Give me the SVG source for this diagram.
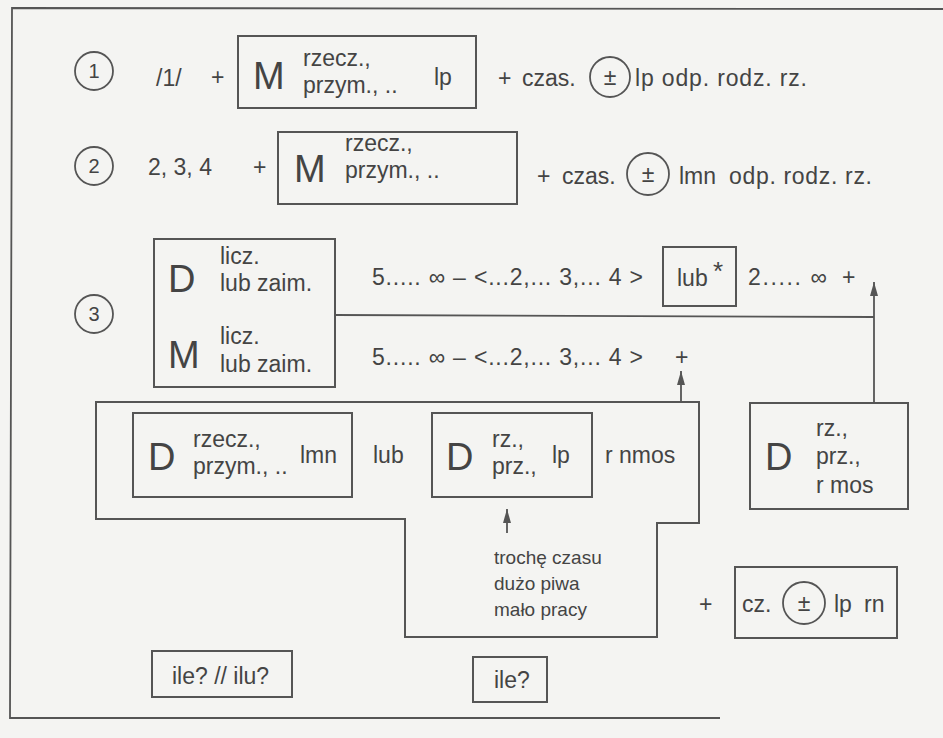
<svg xmlns="http://www.w3.org/2000/svg" width="943" height="738" viewBox="0 0 943 738">
<defs>
<style>
text{font-family:"Liberation Sans",Arial,sans-serif;fill:#444;font-size:23px}
.big{font-size:38px}
.sm{font-size:20px}
.ex{font-size:19px}
.box{fill:none;stroke:#555;stroke-width:2}
.ln{fill:none;stroke:#555;stroke-width:1.8}
.c{fill:none;stroke:#555;stroke-width:1.8}
.mid{text-anchor:middle}
</style>
<marker id="ah" viewBox="0 0 14 8" refX="14" refY="4" markerWidth="14" markerHeight="8" markerUnits="userSpaceOnUse" orient="auto">
<path d="M0 0 L14 4 L0 8 Z" fill="#555"/>
</marker>
</defs>
<rect width="943" height="738" fill="#f4f4f2"/>
<path class="ln" d="M943 9 L12 8 L10 718 L720 718"/>

<g id="row1">
<circle class="c" cx="94" cy="71" r="19"/><text class="mid sm" x="94" y="78">1</text>
<text x="156" y="86">/1/</text>
<text x="211" y="85">+</text>
</g>
<g id="box-m1">
<rect class="box" x="238" y="36" width="238" height="72"/>
<text class="big" x="253" y="89">M</text>
<text x="303" y="66">rzecz.,</text>
<text x="303" y="93">przym., ..</text>
<text x="434" y="85">lp</text>
</g>
<g id="row1-right">
<text x="498" y="86">+</text>
<text x="522" y="86">czas.</text>
<circle class="c" cx="610" cy="77" r="20"/><text class="mid" x="610" y="85">±</text>
<text x="635" y="86" textLength="172" lengthAdjust="spacing">lp odp. rodz. rz.</text>
</g>

<g id="row2">
<circle class="c" cx="94" cy="166" r="19"/><text class="mid sm" x="94" y="173">2</text>
<text x="148" y="175">2, 3, 4</text>
<text x="253" y="175">+</text>
</g>
<g id="box-m2">
<rect class="box" x="278" y="132" width="239" height="72"/>
<text class="big" x="294" y="182">M</text>
<text x="345" y="151">rzecz.,</text>
<text x="345" y="178">przym., ..</text>
</g>
<g id="row2-right">
<text x="537" y="184">+</text>
<text x="562" y="184">czas.</text>
<circle class="c" cx="648" cy="174" r="21"/><text class="mid" x="648" y="182">±</text>
<text x="679" y="184">lmn</text>
<text x="729" y="184" textLength="143" lengthAdjust="spacing">odp. rodz. rz.</text>
</g>

<g id="row3">
<circle class="c" cx="94" cy="314" r="19"/><text class="mid sm" x="94" y="321">3</text>
</g>
<g id="table">
<rect class="box" x="154" y="239" width="181" height="148"/>
<text class="big" x="168" y="292">D</text>
<text x="220" y="264">licz.</text>
<text x="220" y="291">lub zaim.</text>
<text class="big" x="168" y="368">M</text>
<text x="220" y="344">licz.</text>
<text x="220" y="372">lub zaim.</text>
</g>
<g id="row3-text">
<text x="372" y="285" textLength="271" lengthAdjust="spacing">5..... ∞ – &lt;...2,... 3,... 4 &gt;</text>
<text x="372" y="365" textLength="271" lengthAdjust="spacing">5..... ∞ – &lt;...2,... 3,... 4 &gt;</text>
<text x="675" y="365">+</text>
<text x="748" y="285" textLength="79" lengthAdjust="spacing">2..... ∞</text>
<text x="842" y="285">+</text>
</g>
<g id="lub-star">
<rect class="box" x="663" y="247" width="73" height="59"/>
<text x="677" y="286">lub</text>
<text x="713" y="280" style="font-size:26px">*</text>
</g>

<g id="outline">
<path class="box" d="M96 402 L699 402 L699 523 L657 523 L657 637 L405 637 L405 519 L96 519 Z"/>
</g>
<g id="box-d1">
<rect class="box" x="133" y="413" width="219" height="84"/>
<text class="big" x="148" y="470">D</text>
<text x="193" y="447">rzecz.,</text>
<text x="193" y="474">przym., ..</text>
<text x="300" y="463">lmn</text>
</g>
<text x="373" y="463">lub</text>
<g id="box-d2">
<rect class="box" x="432" y="413" width="160" height="84"/>
<text class="big" x="446" y="470">D</text>
<text x="492" y="447">rz.,</text>
<text x="492" y="474">prz.,</text>
<text x="552" y="463">lp</text>
</g>
<text x="605" y="463">r nmos</text>
<g id="examples">
<text class="ex" x="494" y="564">trochę czasu</text>
<text class="ex" x="494" y="590">dużo piwa</text>
<text class="ex" x="494" y="616">mało pracy</text>
</g>
<g id="box-d3">
<rect class="box" x="750" y="403" width="158" height="106"/>
<text class="big" x="765" y="470">D</text>
<text x="816" y="436">rz.,</text>
<text x="816" y="464">prz.,</text>
<text x="816" y="493">r mos</text>
</g>
<text x="699" y="612">+</text>
<g id="box-cz">
<rect class="box" x="735" y="567" width="162" height="71"/>
<text x="742" y="612">cz.</text>
<circle class="c" cx="804" cy="603" r="21"/><text class="mid" x="804" y="611">±</text>
<text x="834" y="612">lp</text>
<text x="864" y="612">rn</text>
</g>
<g id="box-ile1">
<rect class="box" x="152" y="651" width="140" height="46"/>
<text x="172" y="684">ile? // ilu?</text>
</g>
<g id="box-ile2">
<rect class="box" x="473" y="657" width="74" height="45"/>
<text x="494" y="688">ile?</text>
</g>

<g id="connectors">
<line class="ln" x1="335" y1="315" x2="874" y2="317"/>
<line class="ln" x1="874" y1="403" x2="874" y2="282" marker-end="url(#ah)"/>
<line class="ln" x1="681" y1="402" x2="681" y2="371" marker-end="url(#ah)"/>
<line class="ln" x1="507" y1="533" x2="507" y2="509" marker-end="url(#ah)"/>
</g>
</svg>
